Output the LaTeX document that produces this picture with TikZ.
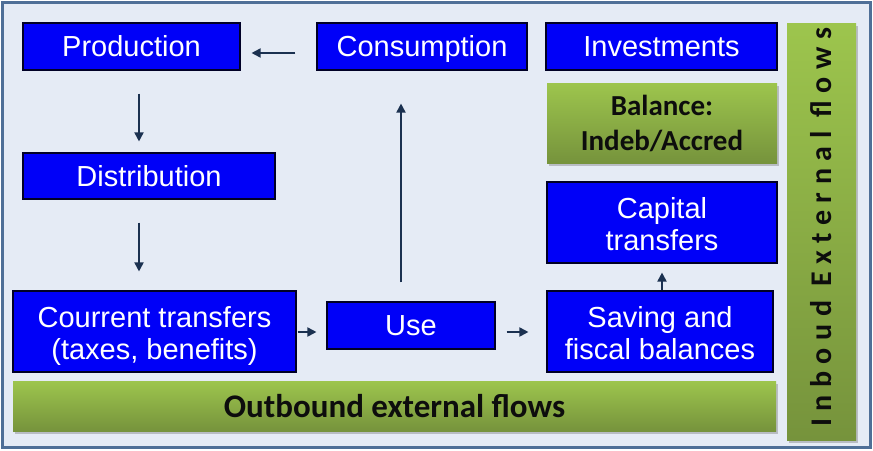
\documentclass[tikz,border=0pt]{standalone}
\usepackage{fontspec}
\setmainfont{Liberation Sans}
\newfontfamily\calfont{Carlito}
\newfontfamily\calspaced{Carlito}[LetterSpace=25]
\usetikzlibrary{arrows.meta,shadows}
\newcommand\boxstrut{\rule[-5.2pt]{0pt}{31.2pt}}
\newcommand\tallstrut{\rule[-5.2pt]{0pt}{35.2pt}}
\definecolor{framefill}{HTML}{E5EBF5}
\definecolor{frameline}{HTML}{4F6F97}
\definecolor{boxblue}{HTML}{0000F8}
\definecolor{gtop}{HTML}{9DC54D}
\definecolor{gbot}{HTML}{76933C}
\definecolor{arrcol}{HTML}{1B3150}
\tikzset{
  bluebox/.style={draw=black!85!blue, line width=1.1pt, fill=boxblue, text=white,
    font=\fontsize{29}{32}\selectfont, align=center, inner sep=0pt,
    execute at begin node=\boxstrut, execute at end node=\boxstrut},
  greenbox/.style={top color=gtop, bottom color=gbot, draw=none, text=black!95,
    font=\calfont\bfseries\fontsize{29}{35}\selectfont, align=center, inner sep=0pt,
    drop shadow={shadow xshift=1.5pt, shadow yshift=-2.5pt, opacity=0.35, fill=black!60}},
  arr/.style={draw=arrcol, line width=1.8pt, -{Triangle[length=9pt,width=9pt]}}
}
\begin{document}
\begin{tikzpicture}[x=1pt,y=-1pt]
\useasboundingbox (0,0) rectangle (873,450);
\draw[fill=framefill, draw=frameline, line width=3pt] (2,2) rectangle (870.5,447.5);
% top row
\node[bluebox, minimum width=217pt, minimum height=47pt] (prod) at (131.5,46.5) {Production};
\node[bluebox, minimum width=210pt, minimum height=47pt] (cons) at (422,46.5) {Consumption};
\node[bluebox, minimum width=231pt, minimum height=47pt] (inv) at (661.5,46.5) {Investments};
% right column
\node[greenbox, minimum width=230pt, minimum height=80pt] (bal) at (662,123) {Balance:\\Indeb/Accred};
\node[bluebox, minimum width=230pt, minimum height=81pt] (cap) at (662,222.5) {\tallstrut Capital\\transfers};
% left column
\node[bluebox, minimum width=252pt, minimum height=46pt] (dist) at (149,176) {Distribution};
\node[bluebox, minimum width=283pt, minimum height=81pt] (cur) at (154.5,331.5) {\tallstrut Courrent transfers\\(taxes, benefits)};
\node[bluebox, minimum width=168pt, minimum height=47pt] (use) at (411,325.5) {Use};
\node[bluebox, minimum width=226pt, minimum height=81pt] (sav) at (660,331.5) {\tallstrut Saving and\\fiscal balances};
% external flows
\node[greenbox, minimum width=763pt, minimum height=50pt, font=\calfont\bfseries\fontsize{33}{36}\selectfont] (out) at (394.5,406) {Outbound external flows};
\node[greenbox, minimum width=69pt, minimum height=417pt] (inb) at (821.5,231.5) {};
\node[rotate=90, text=black!95, font=\calspaced\bfseries\fontsize{30}{32}\selectfont] (inbt) at ([yshift=4]inb.center) {Inboud External flows};
% arrows
\draw[arr, shorten <=21pt, shorten >=11pt] ([yshift=-6.5]cons.west) -- ([yshift=-6.5]prod.east);
\draw[arr, shorten <=23pt, shorten >=11pt] ([xshift=7.5]prod.south) -- ([xshift=-10]dist.north);
\draw[arr, shorten <=23pt, shorten >=19pt] ([xshift=-10]dist.south) -- ([xshift=-15.5]cur.north);
\draw[arr, shorten <=19pt, shorten >=33pt] ([xshift=-10]use.north) -- ([xshift=-21]cons.south);
\draw[arr, shorten <=1pt, shorten >=10pt] ([yshift=-0.5]cur.east) -- ([yshift=-6.5]use.west);
\draw[arr, shorten <=11pt, shorten >=18pt] ([yshift=-6.5]use.east) -- ([yshift=-0.5]sav.west);
\draw[arr, shorten <=0pt, shorten >=9pt] ([xshift=2]sav.north) -- (cap.south);
\end{tikzpicture}
\end{document}
